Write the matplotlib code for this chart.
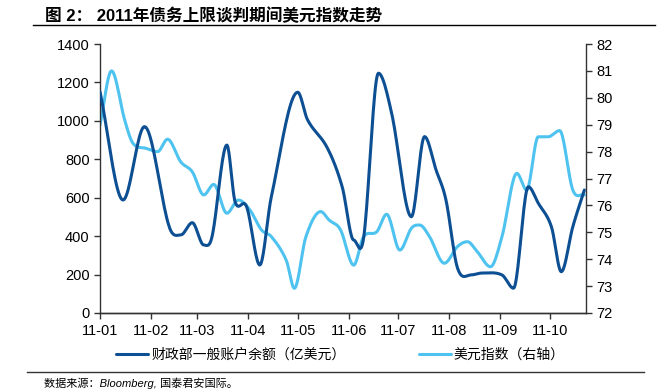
import numpy as np
import pandas as pd
import matplotlib
matplotlib.use("Agg")
import matplotlib.pyplot as plt
import matplotlib.dates as mdates

plt.rcParams['font.family'] = ['Liberation Sans', 'Noto Sans CJK SC', 'DejaVu Sans']

# key points (date, value)
tga_dates = ["2011-01-01", "2011-01-15", "2011-01-28", "2011-02-12", "2011-02-19", "2011-02-26",
             "2011-03-05", "2011-03-10", "2011-03-19", "2011-03-24", "2011-03-31", "2011-04-08",
             "2011-04-15", "2011-05-01", "2011-05-07", "2011-05-19", "2011-05-28", "2011-06-04",
             "2011-06-10", "2011-06-19", "2011-06-27", "2011-07-09", "2011-07-17", "2011-07-24",
             "2011-07-30", "2011-08-06", "2011-08-14", "2011-08-21", "2011-09-02", "2011-09-09",
             "2011-09-18", "2011-09-24", "2011-10-02", "2011-10-08", "2011-10-15", "2011-10-22"]
tga_vals = [1152, 588, 970, 449, 406, 470,
            354, 397, 874, 579, 553, 250,
            605, 1149, 1005, 859, 657, 380,
            390, 1248, 1041, 501, 918, 744,
            588, 234, 198, 208, 198, 129,
            657, 572, 449, 215, 449, 640]

dxy_dates = ["2011-01-01", "2011-01-08", "2011-01-16", "2011-01-21", "2011-01-29", "2011-02-05",
             "2011-02-11", "2011-02-19", "2011-02-26", "2011-03-05", "2011-03-11", "2011-03-19",
             "2011-03-26", "2011-04-02", "2011-04-09", "2011-04-15", "2011-04-24", "2011-04-29",
             "2011-05-06", "2011-05-15", "2011-05-20", "2011-05-27", "2011-06-04", "2011-06-10",
             "2011-06-18", "2011-06-24", "2011-07-02", "2011-07-09", "2011-07-14", "2011-07-20",
             "2011-07-29", "2011-08-06", "2011-08-12", "2011-08-18", "2011-08-26", "2011-09-02",
             "2011-09-11", "2011-09-17", "2011-09-24", "2011-09-30", "2011-10-07", "2011-10-15",
             "2011-10-22"]
dxy_vals = [78.99, 81.0, 79.17, 78.31, 78.12, 78.0,
            78.46, 77.62, 77.25, 76.39, 76.78, 75.71,
            76.2, 75.83, 75.09, 74.84, 73.97, 72.92,
            74.84, 75.77, 75.46, 75.09, 73.78, 74.84,
            75.02, 75.67, 74.34, 75.15, 75.27, 74.84,
            73.85, 74.47, 74.65, 74.28, 73.72, 74.84,
            77.19, 76.57, 78.55, 78.55, 78.78, 76.57,
            76.39]

month_ticks = ["11-01", "11-02", "11-03", "11-04", "11-05", "11-06", "11-07", "11-08", "11-09", "11-10"]

DARK = "#0d4f93"
LIGHT = "#4ec3ef"


def smooth(dates, vals, n=20):
    # hermite smoothing through the read points, flat at the turning points
    x = mdates.date2num(pd.to_datetime(dates))
    y = np.asarray(vals, float)
    m = np.zeros_like(y)
    for i in range(1, len(y) - 1):
        if (y[i] - y[i - 1]) * (y[i + 1] - y[i]) > 0:
            m[i] = (y[i + 1] - y[i - 1]) / (x[i + 1] - x[i - 1])
    m[0] = (y[1] - y[0]) / (x[1] - x[0])
    m[-1] = (y[-1] - y[-2]) / (x[-1] - x[-2])
    xs, ys = [], []
    t = np.linspace(0, 1, n, endpoint=False)
    for i in range(len(y) - 1):
        h = x[i + 1] - x[i]
        h00 = 2 * t ** 3 - 3 * t ** 2 + 1
        h10 = t ** 3 - 2 * t ** 2 + t
        h01 = -2 * t ** 3 + 3 * t ** 2
        h11 = t ** 3 - t ** 2
        xs.append(x[i] + h * t)
        ys.append(h00 * y[i] + h10 * h * m[i] + h01 * y[i + 1] + h11 * h * m[i + 1])
    xs.append([x[-1]])
    ys.append([y[-1]])
    return np.concatenate(xs), np.concatenate(ys)


fig = plt.figure(figsize=(6.6, 3.92), dpi=100)
ax = fig.add_axes([100 / 660, 79 / 392, 486 / 660, 269 / 392])
ax2 = ax.twinx()

x1, y1 = smooth(tga_dates, tga_vals)
x2, y2 = smooth(dxy_dates, dxy_vals)
l1, = ax.plot(x1, y1, color=DARK, lw=2.2, solid_capstyle='round', zorder=3)
l2, = ax2.plot(x2, y2, color=LIGHT, lw=2.2, solid_capstyle='round', zorder=2)
ax.set_zorder(ax2.get_zorder() + 1)
ax.patch.set_visible(False)

ax.set_ylim(0, 1400)
ax.set_yticks(range(0, 1401, 200))
ax2.set_ylim(72, 82)
ax2.set_yticks(range(72, 83, 1))
ax.set_xlim(mdates.date2num(pd.Timestamp("2011-01-01")), mdates.date2num(pd.Timestamp("2011-10-23")))
ticks = mdates.date2num(pd.date_range("2011-01-01", periods=10, freq="MS"))
ax.set_xticks(ticks)
ax.set_xticklabels(month_ticks)

for a in (ax, ax2):
    a.spines['top'].set_visible(False)
    for s in a.spines.values():
        s.set_color("#333333")
        s.set_linewidth(1.0)
    a.tick_params(direction='out', length=4, width=1, colors="#333333", labelcolor="black", labelsize=10.5)
ax2.spines['left'].set_visible(False)
ax.spines['right'].set_visible(False)
ax.tick_params(axis='x', pad=4)

# title and rules
fig.text(45 / 660, 1 - 16 / 392, "图 2： 2011年债务上限谈判期间美元指数走势",
         fontsize=12, fontweight='bold', va='center', ha='left',
         family=['Liberation Sans', 'Noto Sans CJK SC'])
fig.add_artist(plt.Line2D([33 / 660, 655 / 660], [1 - 25 / 392] * 2, color="black", lw=1.0))
fig.add_artist(plt.Line2D([27 / 660, 644 / 660], [1 - 372 / 392] * 2, color="#333333", lw=1.0))
fig.text(44 / 660, 1 - 383 / 392, "数据来源：Bloomberg, 国泰君安国际。", fontsize=8, style='italic',
         va='center', ha='left', family=['Liberation Sans', 'Noto Sans CJK SC'])

fig.legend([l1, l2], ["财政部一般账户余额（亿美元）", "美元指数（右轴）"], loc='center left',
           bbox_to_anchor=(104 / 660, 1 - 355 / 392), ncol=2, frameon=False,
           handlelength=2.3, handletextpad=0.2, columnspacing=5.3,
           prop={'family': ['Noto Sans CJK SC'], 'size': 10})

fig.savefig("out.png", dpi=100)
